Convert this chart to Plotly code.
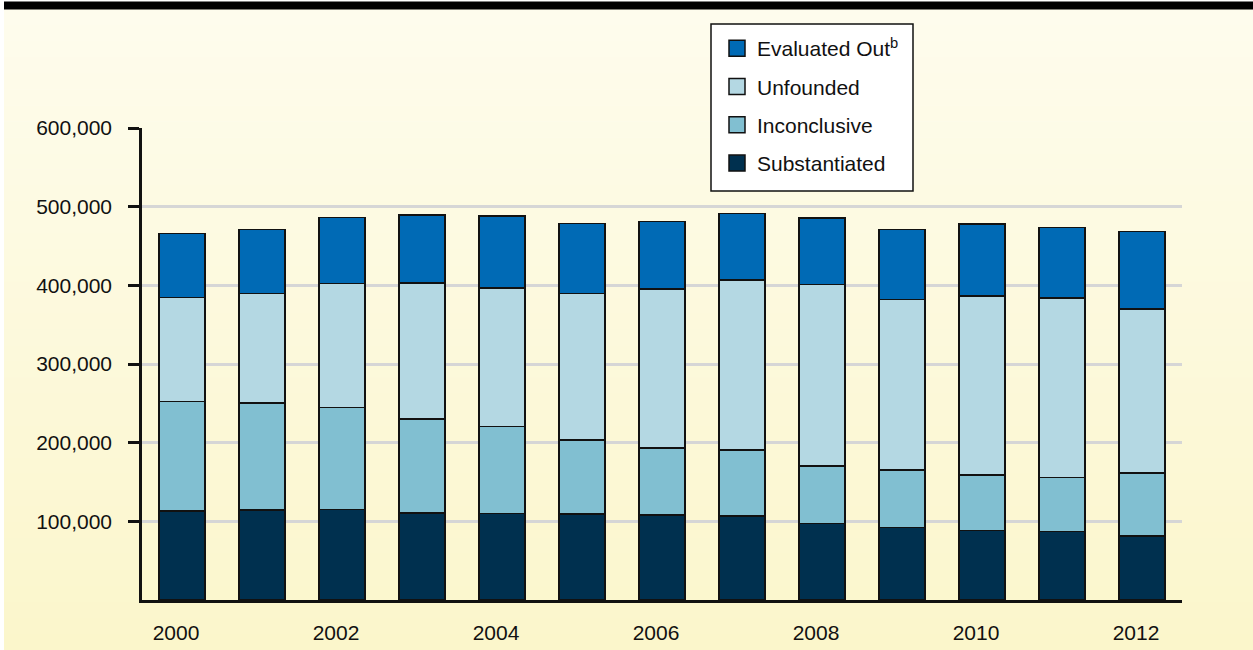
import plotly.graph_objects as go

years = list(range(2000, 2013))
substantiated = [113000, 114300, 115200, 110900, 110100, 109300, 108000, 107100, 97000, 92300, 88500, 87300, 81300]
inconclusive = [139200, 136200, 129400, 118900, 110400, 93900, 85400, 83400, 73600, 72700, 70700, 68500, 80400]
unfounded = [132400, 139100, 157700, 173000, 175900, 186500, 201800, 216100, 230500, 216700, 227000, 227900, 208000]
evaluated_out = [81400, 81400, 84100, 86600, 91600, 89200, 85800, 84600, 84200, 89200, 91800, 90000, 99000]

series_names = ["Substantiated", "Inconclusive", "Unfounded", "Evaluated Out<sup>b</sup>"]
series_values = [substantiated, inconclusive, unfounded, evaluated_out]
series_colors = ["#00304F", "#81BFD1", "#B4D8E3", "#006AB5"]

x_tick_vals = [2000, 2002, 2004, 2006, 2008, 2010, 2012]
x_tick_text = ["2000", "2002", "2004", "2006", "2008", "2010", "2012"]
y_tick_vals = [100000, 200000, 300000, 400000, 500000, 600000]

W, H = 1253, 650
ML, MR, MT, MB = 142, 71, 128, 50
PW, PH = W - ML - MR, H - MT - MB

def px_to_paper_y(p):
    return (H - MB - p) / PH

def px_to_paper_x(p):
    return (p - ML) / PW

fig = go.Figure()

for name, vals, col in zip(series_names, series_values, series_colors):
    fig.add_trace(go.Bar(
        x=years, y=vals, name=name, showlegend=False,
        marker=dict(color=col, line=dict(color="#111111", width=1.5)),
        width=0.575,
    ))

# legend proxies (top to bottom: Evaluated Out ... Substantiated)
for i, (name, col) in enumerate(zip(series_names[::-1], series_colors[::-1])):
    fig.add_trace(go.Scatter(
        x=[years[0]], y=[None], mode="markers", name=name,
        legendgroup="g%d" % i,
        marker=dict(symbol="square", size=16, color=col,
                    line=dict(color="#111111", width=1.5)),
    ))

shapes = []
# gradient background
top_c = (254, 252, 237)
bot_c = (251, 246, 203)
N = 40
y0p, y1p = 9, H
for i in range(N):
    a = y0p + (y1p - y0p) * i / N
    b = y0p + (y1p - y0p) * (i + 1) / N + 0.6
    t = (i + 0.5) / N
    c = tuple(round(top_c[k] + (bot_c[k] - top_c[k]) * t) for k in range(3))
    shapes.append(dict(type="rect", xref="paper", yref="paper", layer="below",
                       x0=px_to_paper_x(4), x1=px_to_paper_x(W),
                       y0=px_to_paper_y(b), y1=px_to_paper_y(a),
                       fillcolor="rgb(%d,%d,%d)" % c, line=dict(width=0)))
# top black bar
shapes.append(dict(type="rect", xref="paper", yref="paper", layer="below",
                   x0=px_to_paper_x(4), x1=px_to_paper_x(W),
                   y0=px_to_paper_y(9.5), y1=px_to_paper_y(1.5),
                   fillcolor="#000000", line=dict(width=0)))
# legend box
shapes.append(dict(type="rect", xref="paper", yref="paper", layer="above",
                   x0=px_to_paper_x(711), x1=px_to_paper_x(913),
                   y0=px_to_paper_y(191), y1=px_to_paper_y(24),
                   fillcolor="white", line=dict(color="#111111", width=1.5)))

fig.update_layout(
    width=W, height=H,
    margin=dict(l=ML, r=MR, t=MT, b=MB, autoexpand=False),
    paper_bgcolor="white",
    plot_bgcolor="rgba(0,0,0,0)",
    barmode="stack",
    font=dict(family="Liberation Sans, Arial, sans-serif", size=21, color="#111111"),
    shapes=shapes,
    showlegend=True,
    legend=dict(
        xref="container", yref="container",
        x=717 / W, y=1 - 28 / H, xanchor="left", yanchor="top",
        traceorder="grouped", tracegroupgap=8,
        bgcolor="rgba(0,0,0,0)", borderwidth=0,
        font=dict(size=21), itemclick=False,
    ),
    xaxis=dict(
        range=[1999.5, 2012.5], tickvals=x_tick_vals, ticktext=x_tick_text,
        showgrid=False, zeroline=False, showline=True, linecolor="#111111",
        linewidth=2.5, ticks="", ticklabelstandoff=12, ticklabelshift=-6,
        automargin=False, tickfont=dict(size=21),
    ),
    yaxis=dict(
        range=[0, 600000], tickvals=y_tick_vals, tickformat=",d",
        showgrid=True, gridcolor="#D6D6D6", gridwidth=2.5,
        zeroline=False, showline=True, linecolor="#111111", linewidth=2.5,
        ticks="outside", ticklen=11, tickwidth=2.5, tickcolor="#111111",
        ticklabelstandoff=12, automargin=False, tickfont=dict(size=21),
    ),
)

fig.write_html("out.html", config={"displayModeBar": False},
               post_script="document.body.style.margin='0';document.body.style.overflow='hidden';")
